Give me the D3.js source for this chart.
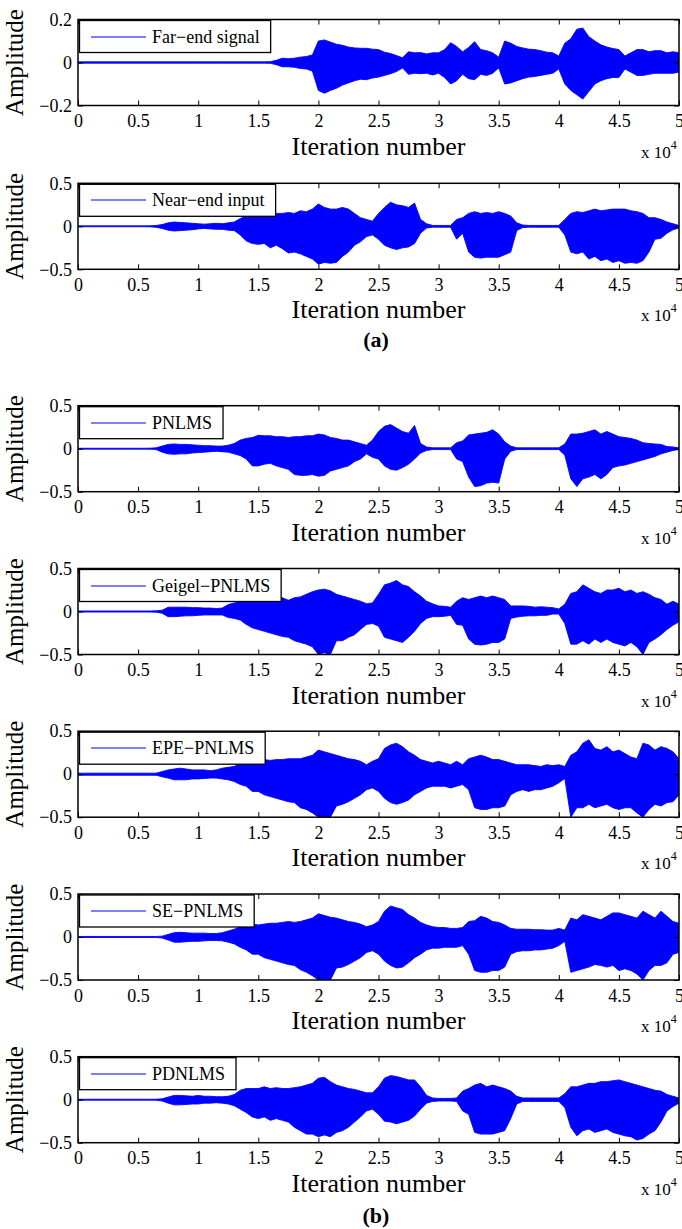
<!DOCTYPE html>
<html lang="en">
<head>
<meta charset="UTF-8"/>
<title>Echo cancellation signals</title>
<script src="https://d3js.org/d3.v7.min.js"></script>
<style>
  body { margin: 0; background: #fff; }
  svg text { font-family: "Liberation Serif", "Times New Roman", serif; fill: #000; }
</style>
</head>
<body>
<script>
// sample positions of the envelopes (one every 500 iterations)
var iters = d3.range(0, 50001, 500);

var xTicks = [0, 5000, 10000, 15000, 20000, 25000, 30000, 35000, 40000, 45000, 50000];
var xTickLabels = ["0", "0.5", "1", "1.5", "2", "2.5", "3", "3.5", "4", "4.5", "5"];

var names = ["Far\u2212end signal", "Near\u2212end input", "PNLMS", "Geigel\u2212PNLMS",
             "EPE\u2212PNLMS", "SE\u2212PNLMS", "PDNLMS"];
var yLimits = [0.2, 0.5, 0.5, 0.5, 0.5, 0.5, 0.5];
var yTickLabels = [["\u22120.2", "0", "0.2"], ["\u22120.5", "0", "0.5"], ["\u22120.5", "0", "0.5"],
                   ["\u22120.5", "0", "0.5"], ["\u22120.5", "0", "0.5"], ["\u22120.5", "0", "0.5"],
                   ["\u22120.5", "0", "0.5"]];

// upper / lower envelope of each signal
var farHi = [.003,.003,.003,.003,.003,.003,.003,.003,.003,.003,
  .003,.003,.003,.003,.003,.003,.003,.003,.003,.003,
  .003,.003,.003,.003,.003,.003,.003,.003,.003,.003,
  .003,.003,.004,.01,.02,.018,.02,.025,.028,.035,
  .1,.105,.095,.085,.08,.072,.068,.066,.066,.062,
  .06,.048,.042,.032,.022,.05,.045,.046,.04,.045,
  .045,.06,.092,.075,.05,.07,.097,.06,.055,.045,
  .025,.1,.09,.075,.068,.062,.06,.055,.048,.045,
  .03,.09,.11,.155,.16,.12,.1,.082,.072,.065,
  .06,.03,.045,.06,.06,.05,.055,.055,.045,.05, .045];
var farLo = [-.003,-.003,-.003,-.003,-.003,-.003,-.003,-.003,-.003,-.003,
  -.003,-.003,-.003,-.003,-.003,-.003,-.003,-.003,-.003,-.003,
  -.003,-.003,-.003,-.003,-.003,-.003,-.003,-.003,-.003,-.003,
  -.003,-.003,-.004,-.01,-.02,-.02,-.022,-.028,-.03,-.04,
  -.13,-.143,-.13,-.12,-.105,-.095,-.085,-.078,-.08,-.072,
  -.068,-.06,-.052,-.042,-.025,-.055,-.05,-.052,-.05,-.058,
  -.05,-.07,-.1,-.085,-.055,-.075,-.08,-.055,-.06,-.05,
  -.025,-.1,-.095,-.085,-.075,-.068,-.065,-.06,-.055,-.05,
  -.03,-.1,-.13,-.15,-.17,-.135,-.1,-.085,-.075,-.07,
  -.07,-.03,-.045,-.06,-.06,-.055,-.05,-.05,-.05,-.05, -.045];

var nearHi = [.005,.005,.005,.005,.005,.005,.005,.005,.005,.005,
  .005,.005,.006,.01,.02,.04,.05,.045,.04,.035,
  .03,.025,.03,.035,.03,.04,.05,.09,.12,.12,
  .19,.18,.16,.15,.15,.16,.15,.18,.17,.2,
  .26,.22,.2,.2,.22,.2,.15,.1,.08,.06,
  .15,.22,.28,.25,.24,.22,.27,.08,.03,.01,
  .01,.01,.01,.08,.1,.15,.17,.15,.16,.15,
  .17,.15,.12,.04,.015,.01,.01,.01,.01,.01,
  .01,.08,.15,.17,.16,.18,.2,.18,.19,.2,
  .2,.2,.18,.17,.15,.1,.1,.08,.05,.03, .01];
var nearLo = [-.005,-.005,-.005,-.005,-.005,-.005,-.005,-.005,-.005,-.005,
  -.005,-.005,-.006,-.012,-.025,-.045,-.055,-.05,-.045,-.04,
  -.03,-.025,-.03,-.035,-.035,-.045,-.05,-.1,-.17,-.2,
  -.21,-.2,-.25,-.22,-.26,-.31,-.3,-.32,-.35,-.38,
  -.44,-.42,-.43,-.42,-.35,-.3,-.22,-.18,-.12,-.1,
  -.15,-.22,-.25,-.27,-.25,-.24,-.2,-.08,-.02,-.01,
  -.01,-.01,-.01,-.15,-.08,-.3,-.36,-.37,-.36,-.36,
  -.36,-.33,-.3,-.05,-.015,-.01,-.01,-.01,-.01,-.01,
  -.01,-.1,-.3,-.32,-.3,-.38,-.35,-.4,-.38,-.42,
  -.4,-.43,-.42,-.43,-.4,-.3,-.15,-.14,-.08,-.04, -.02];

var pnlmsHi = [.005,.005,.005,.005,.005,.005,.005,.005,.005,.005,
  .005,.005,.006,.01,.03,.05,.055,.05,.05,.045,
  .04,.035,.035,.03,.03,.04,.06,.1,.12,.13,
  .155,.15,.15,.14,.14,.13,.14,.14,.15,.15,
  .17,.16,.13,.12,.1,.1,.08,.06,.04,.1,
  .2,.26,.28,.24,.2,.18,.27,.06,.02,.01,
  .01,.01,.01,.07,.09,.16,.17,.18,.19,.22,
  .17,.08,.03,.01,.01,.01,.01,.01,.01,.01,
  .01,.055,.17,.17,.18,.2,.22,.17,.2,.17,
  .14,.13,.12,.1,.07,.06,.055,.05,.025,.02, .01];
var pnlmsLo = [-.005,-.005,-.005,-.005,-.005,-.005,-.005,-.005,-.005,-.005,
  -.005,-.005,-.006,-.01,-.04,-.06,-.065,-.06,-.06,-.05,
  -.045,-.04,-.035,-.03,-.035,-.04,-.06,-.08,-.12,-.2,
  -.2,-.18,-.17,-.2,-.22,-.24,-.3,-.31,-.31,-.3,
  -.32,-.31,-.26,-.24,-.22,-.2,-.15,-.12,-.06,-.1,
  -.12,-.2,-.24,-.25,-.22,-.18,-.12,-.05,-.02,-.01,
  -.01,-.01,-.01,-.12,-.15,-.33,-.44,-.43,-.4,-.39,
  -.4,-.12,-.03,-.01,-.01,-.01,-.01,-.01,-.01,-.01,
  -.01,-.075,-.35,-.44,-.35,-.33,-.3,-.35,-.3,-.22,
  -.2,-.19,-.17,-.15,-.13,-.11,-.09,-.06,-.04,-.02, -.01];

var geigelHi = [.006,.006,.006,.006,.006,.006,.006,.006,.006,.006,
  .006,.006,.006,.008,.015,.05,.05,.05,.05,.045,
  .045,.04,.04,.035,.04,.08,.1,.12,.13,.14,
  .13,.16,.15,.15,.16,.13,.16,.17,.2,.23,
  .25,.26,.24,.2,.18,.16,.14,.12,.09,.1,
  .2,.31,.33,.36,.31,.29,.23,.18,.12,.09,
  .065,.06,.05,.12,.16,.14,.16,.18,.16,.18,
  .16,.14,.065,.065,.065,.06,.05,.055,.05,.045,
  .03,.085,.21,.23,.31,.27,.23,.21,.25,.25,
  .27,.23,.25,.21,.23,.2,.16,.14,.085,.12, .085];
var geigelLo = [-.006,-.006,-.006,-.006,-.006,-.006,-.006,-.006,-.006,-.006,
  -.006,-.006,-.006,-.008,-.02,-.06,-.06,-.055,-.05,-.05,
  -.045,-.04,-.04,-.04,-.04,-.07,-.08,-.1,-.15,-.19,
  -.21,-.23,-.25,-.27,-.29,-.3,-.34,-.36,-.38,-.41,
  -.5,-.48,-.5,-.34,-.34,-.3,-.27,-.21,-.15,-.14,
  -.17,-.3,-.32,-.34,-.36,-.3,-.23,-.14,-.08,-.06,
  -.06,-.055,-.045,-.15,-.16,-.32,-.38,-.39,-.38,-.36,
  -.36,-.32,-.08,-.065,-.055,-.05,-.05,-.045,-.045,-.03,
  -.03,-.14,-.38,-.38,-.34,-.38,-.32,-.36,-.32,-.36,
  -.38,-.4,-.36,-.41,-.5,-.36,-.32,-.27,-.21,-.16, -.12];

var epeHi = [.012,.012,.012,.012,.012,.012,.012,.012,.012,.012,
  .012,.012,.012,.012,.03,.05,.06,.07,.06,.05,
  .05,.05,.04,.05,.07,.08,.09,.13,.13,.15,
  .15,.17,.16,.17,.17,.18,.18,.18,.2,.22,
  .28,.26,.24,.22,.2,.18,.17,.15,.11,.15,
  .18,.3,.34,.36,.32,.26,.22,.17,.15,.13,
  .15,.13,.11,.15,.11,.18,.2,.22,.2,.17,
  .17,.15,.13,.11,.11,.11,.1,.09,.11,.1,
  .11,.09,.22,.26,.36,.4,.3,.28,.32,.26,
  .28,.24,.2,.18,.36,.34,.28,.32,.3,.26, .18];
var epeLo = [-.012,-.012,-.012,-.012,-.012,-.012,-.012,-.012,-.012,-.012,
  -.012,-.012,-.012,-.012,-.03,-.045,-.065,-.065,-.065,-.055,
  -.055,-.05,-.045,-.045,-.055,-.065,-.085,-.12,-.14,-.2,
  -.2,-.24,-.26,-.28,-.3,-.32,-.33,-.39,-.41,-.45,
  -.5,-.5,-.5,-.37,-.35,-.32,-.28,-.24,-.18,-.16,
  -.2,-.28,-.33,-.35,-.33,-.3,-.24,-.2,-.16,-.14,
  -.14,-.14,-.16,-.14,-.12,-.18,-.39,-.41,-.41,-.39,
  -.39,-.37,-.24,-.2,-.18,-.2,-.18,-.18,-.16,-.14,
  -.1,-.05,-.5,-.39,-.39,-.35,-.39,-.37,-.35,-.39,
  -.41,-.39,-.39,-.45,-.5,-.41,-.35,-.37,-.33,-.32, -.24];

var seHi = [.006,.006,.006,.006,.006,.006,.006,.006,.006,.006,
  .006,.006,.006,.006,.01,.03,.05,.055,.05,.045,
  .045,.045,.04,.04,.05,.07,.09,.12,.13,.15,
  .14,.15,.16,.16,.17,.18,.17,.18,.2,.22,
  .27,.25,.23,.22,.2,.18,.17,.15,.12,.14,
  .18,.3,.36,.34,.32,.26,.22,.17,.14,.12,
  .11,.11,.1,.1,.11,.18,.19,.24,.22,.18,
  .17,.14,.1,.09,.09,.09,.085,.085,.08,.08,
  .1,.08,.22,.2,.26,.24,.22,.2,.24,.28,
  .28,.26,.24,.22,.3,.26,.22,.3,.24,.18, .16];
var seLo = [-.006,-.006,-.006,-.006,-.006,-.006,-.006,-.006,-.006,-.006,
  -.006,-.006,-.006,-.006,-.012,-.035,-.06,-.06,-.055,-.05,
  -.05,-.045,-.04,-.04,-.045,-.06,-.08,-.12,-.15,-.2,
  -.2,-.24,-.26,-.28,-.3,-.32,-.33,-.38,-.41,-.45,
  -.5,-.5,-.5,-.36,-.35,-.32,-.28,-.24,-.18,-.16,
  -.2,-.28,-.33,-.36,-.35,-.3,-.24,-.2,-.15,-.13,
  -.13,-.12,-.12,-.12,-.1,-.2,-.39,-.41,-.41,-.39,
  -.39,-.35,-.2,-.17,-.16,-.16,-.15,-.15,-.14,-.13,
  -.1,-.05,-.41,-.39,-.37,-.35,-.32,-.33,-.35,-.33,
  -.39,-.37,-.39,-.43,-.5,-.39,-.33,-.33,-.3,-.2, -.18];

var pdHi = [.005,.005,.005,.005,.005,.005,.005,.005,.005,.005,
  .005,.005,.005,.006,.01,.03,.05,.05,.045,.04,
  .05,.04,.04,.035,.035,.04,.06,.11,.13,.13,
  .13,.15,.13,.14,.13,.13,.14,.15,.17,.19,
  .25,.26,.21,.17,.15,.13,.12,.1,.08,.08,
  .15,.25,.28,.27,.25,.23,.23,.15,.05,.02,
  .015,.015,.015,.02,.1,.13,.17,.19,.15,.17,
  .15,.13,.1,.04,.02,.02,.02,.02,.02,.02,
  .02,.07,.15,.15,.17,.19,.19,.21,.21,.22,
  .23,.21,.19,.17,.15,.13,.11,.1,.06,.04, .02];
var pdLo = [-.005,-.005,-.005,-.005,-.005,-.005,-.005,-.005,-.005,-.005,
  -.005,-.005,-.005,-.006,-.015,-.04,-.06,-.06,-.055,-.05,
  -.05,-.04,-.04,-.035,-.04,-.05,-.07,-.11,-.15,-.2,
  -.22,-.2,-.24,-.22,-.24,-.26,-.32,-.36,-.4,-.4,
  -.43,-.41,-.43,-.38,-.36,-.32,-.26,-.2,-.13,-.11,
  -.17,-.25,-.26,-.28,-.26,-.24,-.19,-.11,-.04,-.02,
  -.015,-.015,-.015,-.02,-.13,-.17,-.38,-.4,-.4,-.4,
  -.38,-.36,-.22,-.05,-.02,-.02,-.02,-.02,-.02,-.02,
  -.02,-.09,-.32,-.42,-.36,-.34,-.38,-.36,-.34,-.38,
  -.4,-.42,-.43,-.47,-.45,-.4,-.36,-.26,-.13,-.08, -.04];

var highs = [farHi, nearHi, pnlmsHi, geigelHi, epeHi, seHi, pdHi];
var lows  = [farLo, nearLo, pnlmsLo, geigelLo, epeLo, seLo, pdLo];

// layout
var w = 682, h = 1229;
var left = 78, right = 679, plotH = 86;
var tops = [19.5, 183.3, 405.7, 568.5, 731.2, 894, 1056.7];

var svg = d3.select("body").append("svg")
    .attr("width", w)
    .attr("height", h);

var x = d3.scaleLinear().domain([0, 50000]).range([left, right]);

function styleAxis(g) {
    g.select(".domain").remove();
    g.selectAll(".tick line").attr("stroke", "#000").attr("stroke-width", 1);
    g.selectAll("text")
        .attr("font-family", "Liberation Serif, Times New Roman, serif")
        .attr("font-size", "18px")
        .attr("fill", "#000");
}

names.forEach(function (name, k) {
    var top = tops[k], bottom = top + plotH;
    var lim = yLimits[k];
    var y = d3.scaleLinear().domain([-lim, lim]).range([bottom, top]);
    var g = svg.append("g");

    g.append("clipPath").attr("id", "clip" + k)
        .append("rect")
        .attr("x", left).attr("y", top)
        .attr("width", right - left).attr("height", plotH);

    var env = d3.zip(highs[k], lows[k]);
    var area = d3.area()
        .x(function (d, i) { return x(iters[i]); })
        .y0(function (d) { return y(d[1]); })
        .y1(function (d) { return y(d[0]); });

    g.append("path")
        .datum(env)
        .attr("clip-path", "url(#clip" + k + ")")
        .attr("d", area)
        .attr("fill", "#0000ff")
        .attr("stroke", "#0000ff")
        .attr("stroke-width", 0.9)
        .attr("stroke-linejoin", "round");

    // ticks on all four sides, pointing inward
    g.append("g").attr("transform", "translate(0," + bottom + ")")
        .call(d3.axisBottom(x).tickValues(xTicks).tickSize(-5).tickPadding(9)
            .tickFormat(function (d, i) { return xTickLabels[i]; }))
        .call(styleAxis);
    g.append("g").attr("transform", "translate(0," + top + ")")
        .call(d3.axisTop(x).tickValues(xTicks).tickSize(-5).tickFormat(function () { return ""; }))
        .call(styleAxis);
    g.append("g").attr("transform", "translate(" + left + ",0)")
        .call(d3.axisLeft(y).tickValues([-lim, 0, lim]).tickSize(-5).tickPadding(6)
            .tickFormat(function (d, i) { return yTickLabels[k][i]; }))
        .call(styleAxis);
    g.append("g").attr("transform", "translate(" + right + ",0)")
        .call(d3.axisRight(y).tickValues([-lim, 0, lim]).tickSize(-5).tickFormat(function () { return ""; }))
        .call(styleAxis);

    g.append("rect")
        .attr("x", left).attr("y", top)
        .attr("width", right - left).attr("height", plotH)
        .attr("fill", "none")
        .attr("stroke", "#000")
        .attr("stroke-width", 1.5);

    // legend
    var lg = g.append("g");
    var box = lg.append("rect")
        .attr("x", left + 1.5).attr("y", top + 1)
        .attr("height", 32)
        .attr("fill", "#fff")
        .attr("stroke", "#000")
        .attr("stroke-width", 1.3);
    var ly = Math.round(top + 17);
    lg.append("line")
        .attr("x1", 91).attr("x2", 146)
        .attr("y1", ly).attr("y2", ly)
        .attr("stroke", "#0000ff")
        .attr("stroke-width", 1);
    var lt = lg.append("text")
        .attr("x", 152).attr("y", top + 23)
        .attr("font-size", "18px")
        .text(name);
    var tw = lt.node().getComputedTextLength();
    box.attr("width", 152 + tw + 11 - (left + 1.5));

    // axis labels
    g.append("text")
        .attr("x", (left + right) / 2).attr("y", bottom + 49)
        .attr("text-anchor", "middle")
        .attr("font-size", "26px")
        .text("Iteration number");

    g.append("text")
        .attr("transform", "translate(23," + (top + plotH / 2) + ") rotate(-90)")
        .attr("text-anchor", "middle")
        .attr("font-size", "25px")
        .text("Amplitude");

    var mult = g.append("text")
        .attr("x", 641).attr("y", bottom + 52)
        .attr("font-size", "17px")
        .text("x 10");
    mult.append("tspan")
        .attr("dy", -9)
        .attr("font-size", "12px")
        .text("4");
});

svg.append("text")
    .attr("x", 376).attr("y", 347)
    .attr("text-anchor", "middle")
    .attr("font-size", "22px")
    .attr("font-weight", "bold")
    .text("(a)");

svg.append("text")
    .attr("x", 376).attr("y", 1223)
    .attr("text-anchor", "middle")
    .attr("font-size", "22px")
    .attr("font-weight", "bold")
    .text("(b)");
</script>
</body>
</html>
